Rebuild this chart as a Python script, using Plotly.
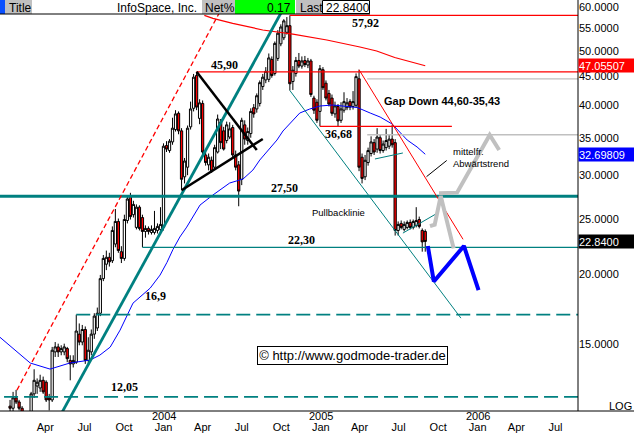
import math
import pandas as pd
import plotly.graph_objects as go

# ---------------- data (weekly candles) ----------------
week_start = "2003-01-09"
opens = [11.6, 11.5, 12.0, 11.8, 11.5, 11.2, 10.9, 11.3, 12.2, 12.6,
         12.5, 12.9, 12.8, 12.0, 11.9, 14.5, 14.8, 14.5, 14.5, 14.7,
         14.0, 13.8, 13.9, 15.6, 15.1, 15.9, 14.0, 14.5, 15.6, 16.0,
         17.0, 19.6, 20.8, 21.4, 21.1, 22.6, 24.8, 21.9, 21.3, 24.9,
         27.5, 25.5, 24.2, 26.3, 25.2, 23.8, 24.1, 23.7, 23.7, 23.9,
         24.0, 24.2, 33.9, 33.2, 34.4, 36.2, 38.7, 36.0, 29.8, 31.0,
         36.6, 39.5, 45.2, 37.9, 40.3, 32.6, 31.3, 31.9, 31.0, 33.0,
         37.3, 36.0, 34.6, 35.1, 36.5, 32.6, 31.3, 29.5, 36.9, 34.6,
         35.6, 39.6, 39.4, 40.3, 43.2, 44.4, 44.5, 48.3, 45.6, 48.5,
         51.5, 52.8, 54.0, 55.5, 44.1, 45.6, 48.1, 47.0, 48.1, 47.2,
         48.0, 41.2, 40.5, 39.0, 46.3, 43.8, 42.0, 41.2, 38.6, 39.8,
         37.6, 39.2, 39.6, 40.6, 39.8, 40.0, 44.6, 32.3, 29.8, 31.6,
         32.8, 34.3, 33.4, 35.0, 33.2, 33.6, 33.8, 34.8, 34.3, 23.9,
         24.6, 24.0, 24.2, 24.7, 24.2, 24.4, 25.0, 23.9, 23.8]
highs = [11.9, 12.3, 12.4, 11.9, 11.6, 11.3, 11.3, 12.3, 13.5, 13.0,
         13.2, 13.1, 12.9, 12.2, 14.8, 15.1, 15.0, 14.9, 15.0, 14.8,
         14.3, 14.3, 16.9, 16.3, 16.2, 16.1, 15.4, 15.9, 17.0, 17.4,
         19.9, 21.6, 22.0, 21.8, 24.3, 26.1, 25.1, 22.4, 25.5, 27.6,
         27.9, 27.0, 26.6, 26.5, 25.5, 24.4, 24.3, 24.4, 25.9, 24.6,
         26.3, 34.2, 34.5, 34.8, 38.0, 39.2, 39.0, 36.4, 32.2, 36.8,
         40.6, 45.5, 45.9, 41.0, 40.8, 33.4, 32.8, 32.4, 34.0, 38.5,
         37.8, 36.6, 37.4, 37.3, 36.9, 33.2, 31.8, 38.0, 37.6, 36.5,
         39.5, 40.2, 42.0, 44.3, 45.5, 46.8, 49.5, 48.9, 52.0, 54.5,
         55.8, 57.0, 57.5, 57.92, 47.0, 48.8, 49.6, 48.9, 49.0, 48.6,
         48.4, 41.6, 41.0, 47.2, 46.8, 44.3, 42.6, 41.8, 40.6, 40.2,
         40.5, 42.2, 41.2, 41.0, 42.4, 45.6, 46.3, 32.8, 32.6, 33.6,
         35.2, 34.8, 36.4, 35.4, 34.6, 36.3, 35.4, 36.9, 34.8, 24.8,
         24.9, 24.8, 24.9, 25.0, 25.0, 26.3, 25.3, 24.1, 24.0]
lows = [11.2, 11.3, 11.7, 11.4, 11.1, 10.6, 10.5, 11.1, 12.0, 12.2,
        12.3, 12.2, 11.8, 11.4, 11.8, 14.2, 14.2, 14.3, 14.3, 13.9,
        12.9, 13.6, 13.8, 14.9, 14.9, 13.8, 13.8, 14.3, 15.3, 15.8,
        16.8, 19.4, 20.3, 20.6, 20.9, 22.3, 21.8, 20.9, 21.1, 24.6,
        25.0, 25.2, 24.0, 23.9, 22.3, 23.2, 23.5, 23.5, 23.5, 23.6,
        23.8, 23.9, 33.0, 32.9, 34.0, 35.9, 35.5, 28.2, 29.0, 30.0,
        36.2, 39.0, 39.2, 37.0, 32.4, 31.2, 30.6, 30.3, 30.8, 32.8,
        33.4, 33.2, 34.2, 34.8, 32.2, 30.6, 26.4, 28.8, 34.0, 34.0,
        35.0, 38.0, 38.8, 39.8, 42.6, 43.8, 44.0, 44.8, 45.2, 48.0,
        51.0, 52.3, 53.5, 42.5, 42.6, 45.0, 46.6, 46.5, 46.8, 46.6,
        41.4, 38.6, 37.2, 36.68, 42.6, 40.8, 39.8, 38.3, 38.0, 36.7,
        37.2, 38.8, 39.2, 39.2, 39.3, 39.7, 30.5, 29.0, 29.4, 31.2,
        32.4, 32.6, 32.9, 32.8, 32.9, 33.2, 33.4, 33.6, 23.4, 23.4,
        24.0, 23.8, 24.0, 24.0, 24.0, 24.2, 24.1, 21.9, 21.9]
closes = [11.5, 12.0, 11.8, 11.5, 11.3, 10.9, 11.2, 12.2, 12.9, 12.8,
          12.9, 12.3, 11.9, 11.9, 14.6, 14.8, 14.5, 14.7, 14.8, 14.1,
          13.8, 14.0, 15.8, 15.1, 15.9, 14.0, 14.6, 15.6, 16.8, 17.0,
          19.6, 21.3, 21.4, 21.0, 23.9, 24.8, 22.0, 21.3, 25.0, 27.2,
          25.3, 26.6, 26.3, 24.1, 23.8, 24.1, 23.8, 24.0, 24.1, 24.3,
          24.5, 33.8, 33.4, 34.5, 36.4, 38.6, 36.0, 29.5, 31.8, 36.4,
          39.4, 44.9, 39.7, 40.4, 33.0, 31.6, 32.3, 30.5, 33.6, 37.8,
          34.3, 33.4, 36.9, 36.3, 32.6, 31.0, 28.1, 37.6, 34.8, 35.9,
          39.0, 38.6, 41.6, 43.9, 44.9, 46.0, 48.6, 45.2, 51.6, 53.8,
          55.2, 56.6, 55.5, 43.7, 46.2, 48.1, 47.0, 48.0, 47.3, 48.0,
          41.8, 39.2, 37.6, 46.5, 43.0, 41.2, 40.2, 38.7, 39.9, 37.5,
          39.4, 40.6, 40.4, 39.7, 40.6, 45.0, 31.0, 29.6, 31.9, 33.2,
          34.4, 33.0, 35.1, 33.2, 34.1, 34.6, 34.8, 34.0, 23.9, 24.5,
          24.2, 24.5, 24.7, 24.2, 24.8, 24.9, 24.3, 22.80, 22.84]

# moving averages
ma_blue_dates = ["2002-12-16", "2003-01-21", "2003-02-25", "2003-04-12", "2003-05-28",
                 "2003-07-14", "2003-08-06", "2003-08-30", "2003-09-22", "2003-10-22",
                 "2003-11-14", "2003-12-01", "2003-12-24", "2004-01-09", "2004-01-23",
                 "2004-02-08", "2004-02-24", "2004-03-26", "2004-04-25", "2004-06-03",
                 "2004-07-04", "2004-07-27", "2004-08-12", "2004-08-28", "2004-09-21",
                 "2004-10-05", "2004-10-28", "2004-11-13", "2004-12-06", "2004-12-30",
                 "2005-01-29", "2005-02-26", "2005-03-27", "2005-04-26", "2005-05-19",
                 "2005-06-16", "2005-07-21", "2005-08-13", "2005-09-01"]
ma_blue_vals = [15.41, 14.61, 13.85, 13.51, 13.85, 14.02, 14.31, 14.79, 15.86, 17.72,
                18.32, 18.85, 19.89, 20.95, 22.10, 23.26, 24.23, 26.53, 27.65, 29.05,
                29.53, 30.64, 31.93, 33.00, 34.67, 35.98, 37.64, 38.74, 39.38, 39.88,
                40.04, 39.88, 39.63, 38.74, 38.11, 37.03, 34.67, 33.69, 32.70]
ma_red_dates = ["2004-04-05", "2004-04-25", "2004-06-10", "2004-08-19", "2004-10-28",
                "2005-01-15", "2005-04-02", "2005-05-11", "2005-06-22", "2005-08-08",
                "2005-09-01"]
ma_red_vals = [57.9, 57.20, 56.04, 54.52, 53.62, 52.32, 50.83, 50.00, 48.69, 47.59, 47.06]

last_price = 22.84
net_pct = 0.17
ma_red_last = 47.05507
ma_blue_last = 32.69809

# horizontal levels
red_levels = [57.92, 45.90, 36.68]
red_level_starts = ["2004-10-21", "2004-03-18", "2004-12-30"]
red_level_ends = ["2006-09-30", "2006-09-30", "2005-11-02"]
gap_levels = [44.60, 35.43]
gap_start = "2005-04-19"
support_thick = 27.50
support_thin = 22.30
support_thin_start = "2003-11-13"
dashed_levels = [16.9, 12.05]
dashed_starts = ["2003-06-12", "2002-12-26"]
far_left = "2002-12-01"
far_right = "2006-09-30"

# drawn trend lines (date, price pairs)
channel_dates = ["2003-01-25", "2004-05-13"]
channel_vals = [12.39, 59.1]
uptrend_dates = ["2003-04-30", "2004-10-07"]
uptrend_vals = [10.95, 59.75]
tri_upper_dates = ["2004-03-18", "2004-08-05"]
tri_upper_vals = [45.90, 33.26]
tri_lower_dates = ["2004-02-12", "2004-08-19"]
tri_lower_vals = [28.2, 34.81]
down_channel_dates = ["2004-10-21", "2005-11-23"]
down_channel_vals = [42.5, 16.66]
flag_dates = ["2005-05-07", "2005-07-11"]
flag_vals = [32.07, 32.87]
pullback_dates = ["2005-07-11", "2005-09-28"]
pullback_vals = [23.64, 25.63]
downtrend_dates = ["2005-03-31", "2005-11-28"]
downtrend_vals = [46.3, 23.04]
pointer_dates = ["2005-10-21", "2005-09-04"]
pointer_vals = [31.87, 29.82]
blue_path_dates = ["2005-09-07", "2005-09-21", "2005-11-30", "2006-01-03"]
blue_path_vals = [22.42, 19.37, 22.42, 18.69]
gray_path1_dates = ["2005-09-12", "2005-09-23", "2005-10-07", "2005-11-06"]
gray_path1_vals = [24.33, 24.48, 27.53, 22.2]
gray_path2_dates = ["2005-10-03", "2005-11-14", "2006-01-29", "2006-02-20"]
gray_path2_vals = [27.85, 27.92, 35.39, 33.27]

# axis ticks
y_ticks = [15, 20, 25, 30, 35, 40, 45, 50, 55, 60]
x_tick_dates = ["2003-04-01", "2003-07-01", "2003-10-01", "2004-01-01", "2004-04-01",
                "2004-07-01", "2004-10-01", "2005-01-01", "2005-04-01", "2005-07-01",
                "2005-10-01", "2006-01-01", "2006-04-01", "2006-07-01"]
x_tick_text = ["Apr", "Jul", "Oct", "Jan", "Apr", "Jul", "Oct", "Jan", "Apr", "Jul",
               "Oct", "Jan", "Apr", "Jul"]
year_dates = ["2004-01-01", "2005-01-01", "2006-01-01"]
year_text = ["2004", "2005", "2006"]

# ---------------- styles ----------------
TEAL = "#008080"
RED = "#FF0000"
BLUE = "#0000FF"
GRAY = "#C0C0C0"
SANS = "Liberation Sans, Arial, sans-serif"
SERIF = "Liberation Serif, Times New Roman, serif"

W, H = 634, 433
PLOT_W, PLOT_H = 578.0, 411.0


def P(px, py):
    return px / PLOT_W, (PLOT_H - py) / PLOT_H


dates = pd.date_range(week_start, periods=len(opens), freq="7D")

fig = go.Figure()

fig.add_trace(go.Candlestick(
    x=dates, open=opens, high=highs, low=lows, close=closes,
    increasing=dict(line=dict(color="black", width=1), fillcolor="white"),
    decreasing=dict(line=dict(color="black", width=1), fillcolor=RED),
    whiskerwidth=0, hoverinfo="skip", showlegend=False))


def line(xs, ys, color, width, dash="solid"):
    fig.add_trace(go.Scatter(x=xs, y=ys, mode="lines", hoverinfo="skip",
                             showlegend=False,
                             line=dict(color=color, width=width, dash=dash)))


# moving averages
line(ma_blue_dates, ma_blue_vals, BLUE, 1)
line(ma_red_dates, ma_red_vals, RED, 1.2)

# horizontal levels
for lv, s, e in zip(red_levels, red_level_starts, red_level_ends):
    line([s, e], [lv, lv], RED, 1.3)
for lv in gap_levels:
    line([gap_start, far_right], [lv, lv], GRAY, 1.3)
line([far_left, far_right], [support_thick, support_thick], TEAL, 3)
line([support_thin_start, far_right], [support_thin, support_thin], TEAL, 1.3)
for lv, s in zip(dashed_levels, dashed_starts):
    line([s, far_right], [lv, lv], TEAL, 1.6, "14px,6px")

# trend lines
line(channel_dates, channel_vals, RED, 1.3, "5px,3px")
line(uptrend_dates, uptrend_vals, TEAL, 2.8)
line(tri_upper_dates, tri_upper_vals, "black", 2.5)
line(tri_lower_dates, tri_lower_vals, "black", 2.5)
line(down_channel_dates, down_channel_vals, TEAL, 1)
line(flag_dates, flag_vals, TEAL, 1)
line(pullback_dates, pullback_vals, TEAL, 1)
line(downtrend_dates, downtrend_vals, RED, 1)
line(pointer_dates, pointer_vals, "black", 1)
line(gray_path1_dates, gray_path1_vals, GRAY, 4)
line(gray_path2_dates, gray_path2_vals, GRAY, 4)
line(blue_path_dates, blue_path_vals, BLUE, 4)

# ---------------- shapes (frame + header) ----------------
shapes = []


def rect(x0, y0, x1, y1, fill, lc=None, lw=0):
    a0, b0 = P(x0, y0)
    a1, b1 = P(x1, y1)
    shapes.append(dict(type="rect", xref="paper", yref="paper", x0=a0, y0=b0, x1=a1, y1=b1,
                       fillcolor=fill, line=dict(color=lc or fill, width=lw), layer="above"))


def seg(x0, y0, x1, y1, color="black", w=1):
    a0, b0 = P(x0, y0)
    a1, b1 = P(x1, y1)
    shapes.append(dict(type="line", xref="paper", yref="paper", x0=a0, y0=b0, x1=a1, y1=b1,
                       line=dict(color=color, width=w), layer="above"))


rect(0, 0, 370, 14, "white")
rect(0, 0, 5, 14, "#0A50FF")
rect(5, 0, 32, 14, GRAY)
rect(202, 0, 235, 14, GRAY)
rect(235, 0, 295, 14, "#00FF00")
rect(296, 0, 322, 14, GRAY)
rect(322.5, 0.5, 369.5, 13.5, "white", "black", 1)
seg(0, 14, 370, 14)
seg(578, 0, 578, 411)
seg(0, 411, 634, 411)

# ---------------- annotations ----------------
ann = []


def text(px, py, s, size=11, family=SANS, xanchor="center", color="black", **kw):
    x, y = P(px, py)
    d = dict(xref="paper", yref="paper", x=x, y=y, text=s, showarrow=False,
             xanchor=xanchor, yanchor="middle",
             font=dict(size=size, family=family, color=color))
    d.update(kw)
    ann.append(d)


# header
text(7, 7.5, "Title", 12, xanchor="left")
text(199, 7.5, "InfoSpace, Inc.", 12, xanchor="right")
text(203, 7.5, "Net%", 12, xanchor="left")
text(293, 7.5, f"{net_pct:.2f}", 12, xanchor="right")
text(298, 7.5, "Last", 12, xanchor="left")
text(324, 7.5, f"{last_price:.4f}", 12, xanchor="left")

# level labels
text(224, 65, "<b>45,90</b>", 12, SERIF)
text(365, 23, "<b>57,92</b>", 12, SERIF)
text(338.5, 134, "<b>36,68</b>", 12, SERIF)
text(284, 188, "<b>27,50</b>", 12, SERIF)
text(301.5, 240, "<b>22,30</b>", 12, SERIF)
text(155.5, 296, "<b>16,9</b>", 12, SERIF)
text(124.5, 387, "<b>12,05</b>", 12, SERIF)
text(442, 101, "<b>Gap Down 44,60-35,43</b>", 11)
text(338, 212, "Pullbacklinie", 9.5)
text(451, 157, "mittelfr.<br>Abwärtstrend", 9.5, xanchor="left", align="left")
text(352.5, 355, "© http://www.godmode-trader.de", 13,
     bordercolor="black", borderwidth=1, bgcolor="white", borderpad=1,
     width=187, height=15)
text(620.5, 406, "LOG", 11)

# right-hand value boxes
for val, bg in [(ma_red_last, RED), (ma_blue_last, BLUE), (last_price, "black")]:
    ann.append(dict(xref="paper", yref="y", x=1.0, y=math.log10(val),
                    text=(f"{val:.5f}" if val != last_price else f"{val:.4f}"),
                    showarrow=False, xanchor="left", yanchor="middle", align="left",
                    width=55, height=13, borderpad=0, bgcolor=bg,
                    font=dict(size=11, family=SANS, color="white")))

# year labels above the "Jan" tick labels
for d, s in zip(year_dates, year_text):
    ann.append(dict(xref="x", yref="paper", x=d, y=P(0, 416.5)[1], text=s,
                    showarrow=False, xanchor="center", yanchor="middle",
                    font=dict(size=11, family=SANS, color="black")))

ymin, ymax = 11.37, 61.68
fig.update_layout(
    width=W, height=H,
    margin=dict(l=0, r=W - PLOT_W, t=0, b=H - PLOT_H, autoexpand=False),
    paper_bgcolor="white", plot_bgcolor="white",
    showlegend=False, boxgap=0.25, boxgroupgap=0,
    shapes=shapes, annotations=ann,
    xaxis=dict(type="date", range=["2002-12-16 14:00", "2006-08-22 10:00"],
               rangeslider=dict(visible=False), showgrid=False, zeroline=False,
               showline=False, ticks="", tickvals=x_tick_dates, ticktext=x_tick_text,
               tickfont=dict(size=11, family=SANS, color="black"),
               ticklabelstandoff=8),
    yaxis=dict(type="log", range=[math.log10(ymin), math.log10(ymax)], side="right",
               showgrid=False, zeroline=False, showline=False, ticks="",
               tickvals=y_ticks, ticktext=[f"{v:.4f}" for v in y_ticks],
               tickfont=dict(size=11, family=SANS, color="black")),
)

fig.write_html("out.html", config={"displayModeBar": False},
               post_script="document.body.style.margin='0';document.body.style.overflow='hidden';")
